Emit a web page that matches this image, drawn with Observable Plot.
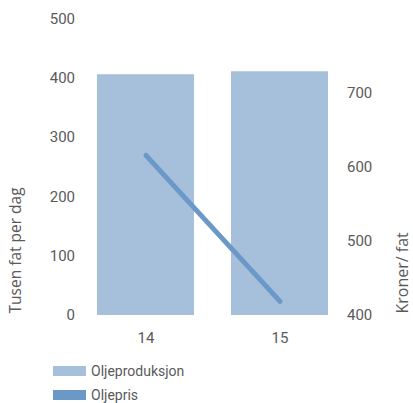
<!DOCTYPE html>
<html>
<head>
<meta charset="utf-8">
<script src="https://cdn.jsdelivr.net/npm/d3@7"></script>
<script src="https://cdn.jsdelivr.net/npm/@observablehq/plot@0.6"></script>
<style>
  body { margin: 0; background: #fff; font-family: Roboto, sans-serif; }
  #wrap { position: relative; width: 413px; height: 403px; overflow: hidden; }
  .legend { position: absolute; left: 53px; top: 359px; font: 14px Roboto, sans-serif; color: #5a5a5a; }
  .item { display: flex; align-items: center; height: 24px; line-height: 16px; }
  .sw { width: 33px; height: 10px; margin-right: 5px; }
</style>
</head>
<body>
<div id="wrap">
  <div id="chart"></div>
  <div class="legend" id="legend"></div>
</div>
<script>
const years = ["14", "15"];
const production = [406, 411];   // Tusen fat per dag (left axis)
const price = [616, 419];        // Kroner/fat (right axis)
const leftTicks = [0, 100, 200, 300, 400, 500];
const rightTicks = [400, 500, 600, 700];
const seriesNames = ["Oljeproduksjon", "Oljepris"];
const barColor = "#a6bfdb";
const lineColor = "#6a99c7";
const textColor = "#5a5a5a";

const toLeft = p => (p - 400) * 500 / 400;
const fromLeft = v => v * 400 / 500 + 400;

const data = years.map((y, i) => ({year: y, prod: production[i], price: price[i]}));

const chart = Plot.plot({
  width: 413,
  height: 352,
  marginLeft: 78.5,
  marginRight: 66.5,
  marginTop: 18.5,
  marginBottom: 37,
  style: {fontFamily: "Roboto, sans-serif", fontSize: "15px", color: textColor, background: "transparent"},
  x: {domain: years, paddingInner: 0.276, paddingOuter: 0.138, axis: null},
  y: {domain: [0, 500], axis: null},
  marks: [
    Plot.barY(data, {x: "year", y: "prod", fill: barColor}),
    Plot.line(data, {x: "year", y: d => toLeft(d.price), stroke: lineColor, strokeWidth: 5, strokeLinecap: "round"}),
    Plot.axisY(leftTicks, {anchor: "left", tickSize: 0, tickPadding: 4, fill: textColor, label: null}),
    Plot.axisY(rightTicks.map(toLeft), {anchor: "right", tickSize: 0, tickPadding: 0, fill: textColor, tickFormat: v => String(Math.round(fromLeft(v))), label: null}),
    Plot.axisX({tickSize: 0, tickPadding: 17, fill: textColor, label: null}),
    Plot.text(["Tusen fat per dag"], {frameAnchor: "bottom-left", dx: -58.5, dy: -2, rotate: -90, textAnchor: "start", fill: textColor, fontFamily: "Open Sans, sans-serif", fontSize: 15.5}),
    Plot.text(["Kroner/ fat"], {frameAnchor: "bottom-right", dx: 61, dy: -2, rotate: -90, textAnchor: "start", fill: textColor, fontFamily: "Open Sans, sans-serif", fontSize: 16})
  ]
});
document.getElementById("chart").appendChild(chart);

const legend = document.getElementById("legend");
[barColor, lineColor].forEach((c, i) => {
  const item = document.createElement("div");
  item.className = "item";
  const sw = document.createElement("div");
  sw.className = "sw";
  sw.style.background = c;
  const t = document.createElement("span");
  t.textContent = seriesNames[i];
  item.appendChild(sw);
  item.appendChild(t);
  legend.appendChild(item);
});
</script>
</body>
</html>
